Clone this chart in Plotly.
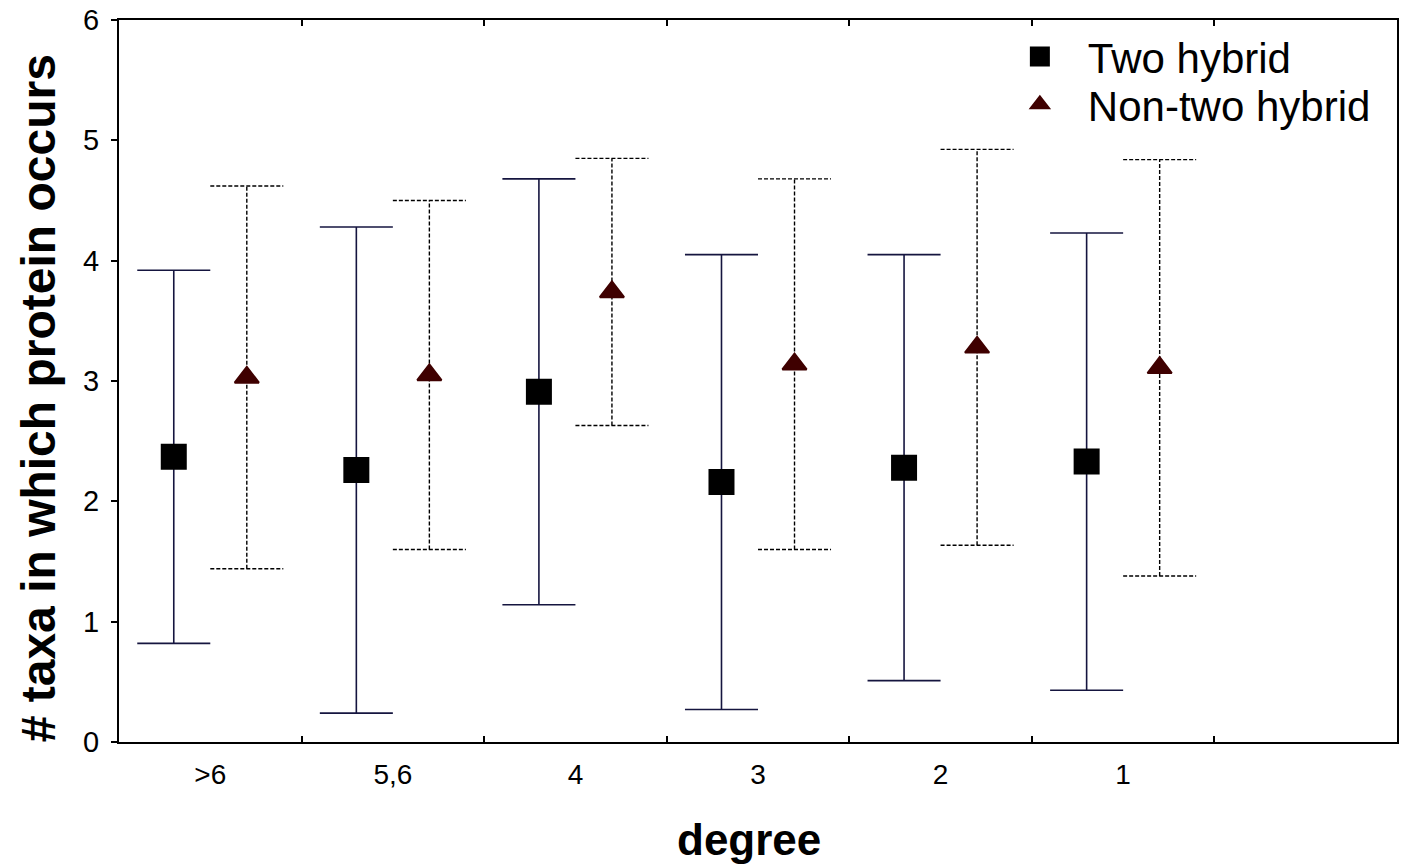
import plotly.graph_objects as go

# degree classes and the mean +/- error
categories = [">6", "5,6", "4", "3", "2", "1"]
two_hybrid_mean = [2.37, 2.26, 2.91, 2.16, 2.28, 2.33]
two_hybrid_err = [1.55, 2.02, 1.77, 1.89, 1.77, 1.90]
non_two_hybrid_mean = [3.03, 3.05, 3.74, 3.14, 3.28, 3.11]
non_two_hybrid_err = [1.59, 1.45, 1.11, 1.54, 1.645, 1.73]
y_ticks = [0, 1, 2, 3, 4, 5, 6]

OFFSET = 0.2   # horizontal shift of each series from the class centre
CAP = 0.2      # half width of the whisker caps
FONT = "Liberation Sans, Arial, sans-serif"


def whiskers(xs, means, errs):
    """Vertical bar plus two caps per point, joined with None breaks."""
    px, py = [], []
    for x, m, e in zip(xs, means, errs):
        lo, hi = m - e, m + e
        px += [x, x, None, x - CAP, x + CAP, None, x - CAP, x + CAP, None]
        py += [lo, hi, None, lo, lo, None, hi, hi, None]
    return px, py


idx = list(range(len(categories)))
x_two = [i - OFFSET for i in idx]
x_non = [i + OFFSET for i in idx]

fig = go.Figure()

wx, wy = whiskers(x_two, two_hybrid_mean, two_hybrid_err)
fig.add_trace(go.Scatter(x=wx, y=wy, mode="lines", showlegend=False, hoverinfo="skip",
                         line=dict(color="#15153f", width=1.6)))
wx, wy = whiskers(x_non, non_two_hybrid_mean, non_two_hybrid_err)
fig.add_trace(go.Scatter(x=wx, y=wy, mode="lines", showlegend=False, hoverinfo="skip",
                         line=dict(color="#000000", width=1.4, dash="4px,2px")))

# the marker outline is the fill colour: it makes the legend symbols larger
fig.add_trace(go.Scatter(
    x=x_two, y=two_hybrid_mean, mode="markers", name="Two hybrid", legend="legend",
    marker=dict(symbol="square", size=22, color="#000000",
                line=dict(color="#000000", width=4)),
))
fig.add_trace(go.Scatter(
    x=x_non, y=non_two_hybrid_mean, mode="markers", name="Non-two hybrid", legend="legend2",
    marker=dict(symbol="triangle-up", size=21, color="#3f0000",
                line=dict(color="#3f0000", width=2)),
))

legend_style = dict(
    xanchor="left", yanchor="middle",
    bgcolor="rgba(0,0,0,0)", borderwidth=0,
    font=dict(family=FONT, size=42, color="#000000"),
    itemsizing="trace", itemwidth=86,
)

fig.update_layout(
    width=1407,
    height=867,
    paper_bgcolor="white",
    plot_bgcolor="white",
    margin=dict(l=119, r=10, t=20, b=125, autoexpand=False),
    font=dict(family=FONT, color="#000000"),
    showlegend=True,
    legend=dict(x=0.683, y=0.949, **legend_style),
    legend2=dict(x=0.683, y=0.883, **legend_style),
    xaxis=dict(
        range=[-0.5, 6.5],
        tickmode="array",
        tickvals=idx,
        ticktext=categories,
        ticks="",
        ticklabelstandoff=6,
        tickfont=dict(family=FONT, size=28, color="#000000"),
        showgrid=False,
        zeroline=False,
        showline=True,
        linecolor="#000000",
        linewidth=2,
        mirror="ticks",
        automargin=False,
        minor=dict(
            tickmode="array",
            tickvals=[i + 0.5 for i in idx],
            ticks="inside",
            ticklen=6,
            tickcolor="#000000",
            tickwidth=1.5,
            showgrid=False,
        ),
    ),
    yaxis=dict(
        range=[0, 6],
        tickmode="array",
        tickvals=y_ticks,
        ticks="outside",
        ticklen=6,
        tickwidth=1.5,
        tickcolor="#000000",
        ticklabelstandoff=6,
        tickfont=dict(family=FONT, size=29, color="#000000"),
        showgrid=False,
        zeroline=False,
        showline=True,
        linecolor="#000000",
        linewidth=2,
        mirror=True,
        automargin=False,
    ),
    annotations=[
        dict(text="<b>degree</b>", xref="paper", yref="paper", x=0.493, y=-0.1357,
             xanchor="center", yanchor="middle", showarrow=False,
             font=dict(family=FONT, size=44, color="#000000")),
        dict(text="<b># taxa in which protein occurs</b>", xref="paper", yref="paper",
             x=-0.0634, y=0.476, xanchor="center", yanchor="middle", textangle=-90,
             showarrow=False, font=dict(family=FONT, size=48, color="#000000")),
    ],
)

fig.write_html("out.html", config={"displayModeBar": False},
               post_script="document.body.style.margin='0';document.body.style.overflow='hidden';")
